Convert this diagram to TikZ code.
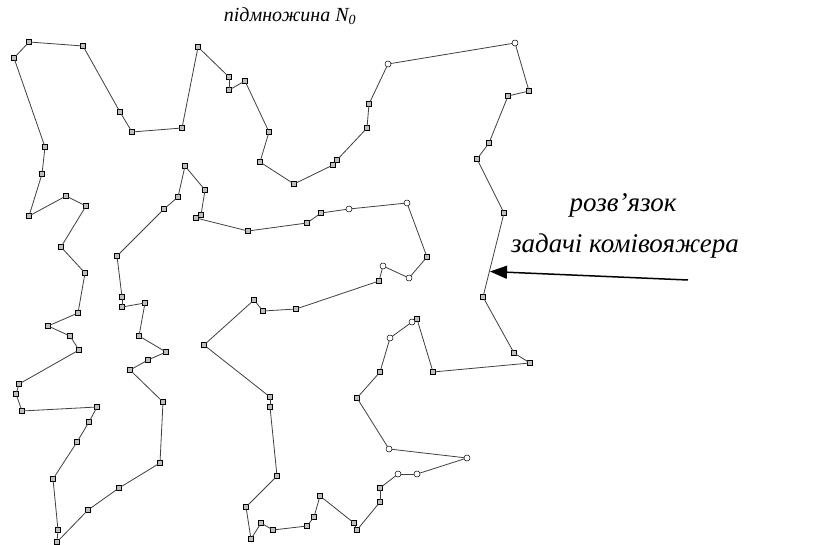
\documentclass[tikz,border=0pt]{standalone}
\usepackage{fontspec}
\setmainfont{Liberation Serif}
\usetikzlibrary{arrows.meta}
\begin{document}
\begin{tikzpicture}[x=1pt,y=-1pt,
  sq/.style={rectangle,draw=black,fill=black!25,line width=0.6pt,minimum size=4.5pt,inner sep=0pt,outer sep=0pt},
  dm/.style={circle,draw=black,fill=white,line width=0.5pt,minimum size=6pt,inner sep=0pt,outer sep=0pt},
  tourline/.style={draw=black!75,line width=0.8pt},
  lbl/.style={font=\itshape\fontsize{20}{24}\selectfont,inner sep=0pt},
  biglbl/.style={font=\itshape\fontsize{27}{32}\selectfont,inner sep=0pt}]
\useasboundingbox[fill=white] (0,0) rectangle (814,545);
\foreach \px/\py/\t [count=\i] in {
29/42/sq, 83/46/sq, 120/112/sq, 132/132/sq, 182/128/sq, 198/47/sq, 229/77/sq, 229/90/sq, 245/81/sq, 269/132/sq,
260/162/sq, 294/184/sq, 333/165/sq, 337/160/sq, 367/128/sq, 369/104/sq, 388/64/dm, 515/43/dm, 529/91/sq, 508/96/sq,
489/143/sq, 477/159/sq, 504/213/sq, 483/297/sq, 514/353/sq, 530/363/sq, 433/372/sq, 417/319/sq, 412/322/dm, 390/338/dm,
380/372/sq, 357/398/sq, 389/449/dm, 467/458/dm, 417/474/dm, 398/474/dm, 380/488/sq, 380/502/sq, 357/530/sq, 354/523/sq,
320/496/sq, 314/517/sq, 307/526/sq, 273/530/sq, 261/523/sq, 251/539/sq, 246/507/sq, 277/476/sq, 270/407/sq, 270/397/sq,
204/345/sq, 254/300/sq, 263/311/sq, 296/309/sq, 379/281/sq, 383/266/dm, 409/278/dm, 427/257/sq, 407/203/dm, 349/209/dm,
321/213/sq, 307/223/sq, 248/231/sq, 196/218/sq, 201/215/sq, 205/190/sq, 185/166/sq, 178/197/sq, 164/209/sq, 117/256/sq,
122/297/sq, 122/307/sq, 145/303/sq, 139/336/sq, 166/352/sq, 148/360/sq, 130/370/sq, 163/402/sq, 160/463/sq, 119/488/sq,
88/510/sq, 57/542/sq, 58/530/sq, 53/479/sq, 77/442/sq, 89/422/sq, 97/407/sq, 22/411/sq, 16/394/sq, 19/384/sq,
79/350/sq, 70/336/sq, 48/326/sq, 78/313/sq, 85/273/sq, 61/247/sq, 86/206/sq, 66/196/sq, 29/216/sq, 42/174/sq,
45/147/sq, 14/58/sq}
{ \node[\t] (p\i) at (\px,\py) {}; }
\foreach \i in {1,...,102} {
  \pgfmathtruncatemacro\j{mod(\i,102)+1}
  \draw[tourline] (p\i) -- (p\j);
}
\node[lbl] (title) at (290,16) {підмножина N\textsubscript{0}};
\node[biglbl] (sol1) at (623,205) {розв’язок};
\node[biglbl] (sol2) at (625,246) {задачі комівояжера};
\coordinate (atail) at (688,280);
\coordinate (atip) at (490,271.5);
\draw[-{Triangle[length=17pt,width=13pt]},line width=1.5pt] (atail) -- (atip);
\end{tikzpicture}
\end{document}
